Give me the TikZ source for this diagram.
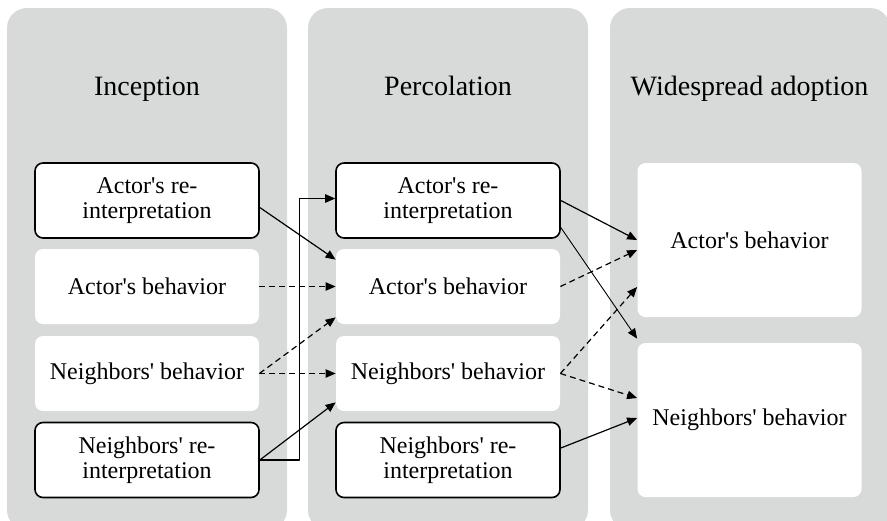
\documentclass[tikz,border=0pt]{standalone}
\usepackage{fontspec}
\setmainfont{Liberation Serif}
\usetikzlibrary{arrows.meta, calc}

\definecolor{panelgray}{RGB}{216,217,217}
\newcommand{\ap}{\textquotesingle}

\tikzset{
	panel/.style={fill=panelgray, draw=none, rounded corners=10pt},
	phase/.style={anchor=base, font=\fontsize{14}{16}\selectfont},
	factor/.style={fill=white, draw=none, rounded corners=4pt, align=center,
		minimum width=112pt, minimum height=37.5pt, inner sep=0pt,
		font=\fontsize{12}{12.5}\selectfont},
	reinterp/.style={factor, draw=black, line width=0.8pt},
	outcome/.style={factor, minimum height=77pt},
	link/.style={-{Triangle[length=5pt,width=4.2pt]}, line width=0.6pt},
	cue/.style={link, dash pattern=on 3pt off 2pt}
}

\begin{document}
\begin{tikzpicture}[x=0.5pt, y=-0.5pt, line cap=butt, line join=round]

\useasboundingbox (0,0) rectangle (887,520);
\clip (0,0) rectangle (887,520);

% ================= panels =================
\fill[panel] (7,8) rectangle (287,530);
\fill[panel] (308,8) rectangle (588,530);
\fill[panel] (610,8) rectangle (890,530);

\node[phase] (t1) at (147,95) {Inception};
\node[phase] (t2) at (448,95) {Percolation};
\node[phase] (t3) at (749.5,95) {Widespread adoption};

% ================= Inception =================
\node[reinterp] (a1) at (147,200.5) {Actor\ap s re-\\interpretation};
\node[factor]   (b1) at (147,286.5) {Actor\ap s behavior};
\node[factor]   (c1) at (147,373.5) {Neighbors\ap{} behavior};
\node[reinterp] (d1) at (147,460) {Neighbors\ap{} re-\\interpretation};

% ================= Percolation =================
\node[reinterp] (a2) at (448,200.5) {Actor\ap s re-\\interpretation};
\node[factor]   (b2) at (448,286.5) {Actor\ap s behavior};
\node[factor]   (c2) at (448,373.5) {Neighbors\ap{} behavior};
\node[reinterp] (d2) at (448,460) {Neighbors\ap{} re-\\interpretation};

% ================= Widespread adoption =================
\node[outcome] (e3) at (749.5,240) {Actor\ap s behavior};
\node[outcome] (f3) at (749.5,420) {Neighbors\ap{} behavior};

% inception -> percolation
\draw[link] ($(a1.east)+(0,7)$) -- ($(b2.north west)+(0,11)$);
\draw[cue]  (b1.east) -- (b2.west);
\draw[cue]  (c1.east) -- ($(b2.south west)+(0,-7)$);
\draw[cue]  (c1.east) -- (c2.west);
\draw[link] (d1.east) -- ($(c2.south west)+(0,-9)$);
\draw[link] (d1.east) -- ++(40,0) |- ($(a2.west)+(0,-2)$);

% percolation -> widespread adoption
\draw[link] (a2.east) -- (e3.west);
\draw[link, line width=0.45pt] ($(a2.east)+(0,27)$) -- ($(f3.north west)+(0,-4)$);
\draw[cue]  (b2.east) -- ($(e3.west)+(0,10)$);
\draw[cue]  (c2.east) -- ($(e3.west)+(0,47)$);
\draw[cue]  (c2.east) -- ($(f3.west)+(0,-22)$);
\draw[link] ($(d2.east)+(0,-12)$) -- ($(f3.west)+(0,-2)$);

\end{tikzpicture}
\end{document}
